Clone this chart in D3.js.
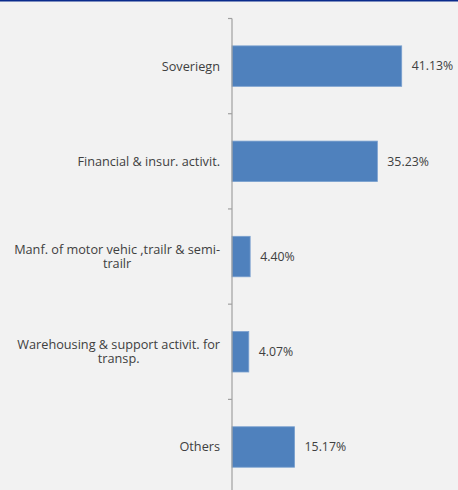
<!DOCTYPE html>
<html>
<head>
<meta charset="utf-8">
<script src="https://cdn.jsdelivr.net/npm/d3@7"></script>
<style>
  html, body { margin: 0; padding: 0; background: #f2f2f2; }
  svg { display: block; }
  text { fill: #404040; }
  .cat { font-family: "Open Sans", Lato, sans-serif; }
  .val { font-family: "Open Sans", Lato, sans-serif; }
</style>
</head>
<body>
<svg id="chart" width="458" height="490"></svg>
<script>
// Sector breakdown (share of total, %)
const categories = [
  "Soveriegn",
  "Financial & insur. activit.",
  "Manf. of motor vehic ,trailr & semi-\ntrailr",
  "Warehousing & support activit. for\ntransp.",
  "Others"
];
const values = [41.13, 35.23, 4.40, 4.07, 15.17];
const valueLabels = ["41.13%", "35.23%", "4.40%", "4.07%", "15.17%"];

const W = 458, H = 490;
const svg = d3.select("#chart");

// top rule
svg.append("rect").attr("x", 0).attr("y", 0).attr("width", W).attr("height", 1.5)
  .attr("fill", "#0a2b8c");

const axisX = 232;
const y = d3.scaleBand().domain(categories).range([18.5, 494.6]).padding(0);
const x = d3.scaleLinear().domain([0, 50]).range([axisX, axisX + 206.3]);

const barFrac = 0.425;
const barH = y.bandwidth() * barFrac;

const data = categories.map((c, i) => ({ cat: c, v: values[i], label: valueLabels[i] }));

// bars
svg.append("g").selectAll("rect").data(data).join("rect")
  .attr("x", x(0))
  .attr("y", d => y(d.cat) + (y.bandwidth() - barH) / 2)
  .attr("width", d => x(d.v) - x(0))
  .attr("height", barH)
  .attr("fill", "#4f81bd")
  .attr("stroke", "#7aa0cf")
  .attr("stroke-width", 0.8);

// value labels
svg.append("g").selectAll("text").data(data).join("text")
  .attr("class", "val")
  .attr("x", d => x(d.v) + 10)
  .attr("y", d => y(d.cat) + y.bandwidth() / 2)
  .attr("dy", "0.35em")
  .attr("font-size", 12.3)
  .text(d => d.label);

// category axis: line and ticks at band boundaries
const ax = svg.append("g");
const axisTop = y.range()[0];
ax.append("line").attr("x1", axisX).attr("x2", axisX).attr("y1", axisTop).attr("y2", H)
  .attr("stroke", "#a0a0a0").attr("stroke-width", 1.2);
const boundaries = categories.map(c => y(c)).concat([y.range()[1]]);
ax.selectAll("line.tick").data(boundaries).join("line").attr("class", "tick")
  .attr("x1", axisX - 4).attr("x2", axisX).attr("y1", d => d).attr("y2", d => d)
  .attr("stroke", "#a0a0a0").attr("stroke-width", 1.2);

// category labels, wrapped lines centred on one block right-aligned to the axis
const labelG = svg.append("g");
data.forEach(d => {
  const lines = d.cat.split("\n");
  const lh = 14;
  const cy = y(d.cat) + y.bandwidth() / 2;
  const t = labelG.append("text").attr("class", "cat").attr("font-size", 12.7).attr("text-anchor", "middle");
  lines.forEach((ln, i) => {
    t.append("tspan").attr("y", cy + (i - (lines.length - 1) / 2) * lh).attr("dy", "0.35em").text(ln);
  });
  let maxW = 0;
  t.selectAll("tspan").each(function () { maxW = Math.max(maxW, this.getComputedTextLength()); });
  const cx = axisX - 12 - maxW / 2;
  t.selectAll("tspan").attr("x", cx);
});
</script>
</body>
</html>
